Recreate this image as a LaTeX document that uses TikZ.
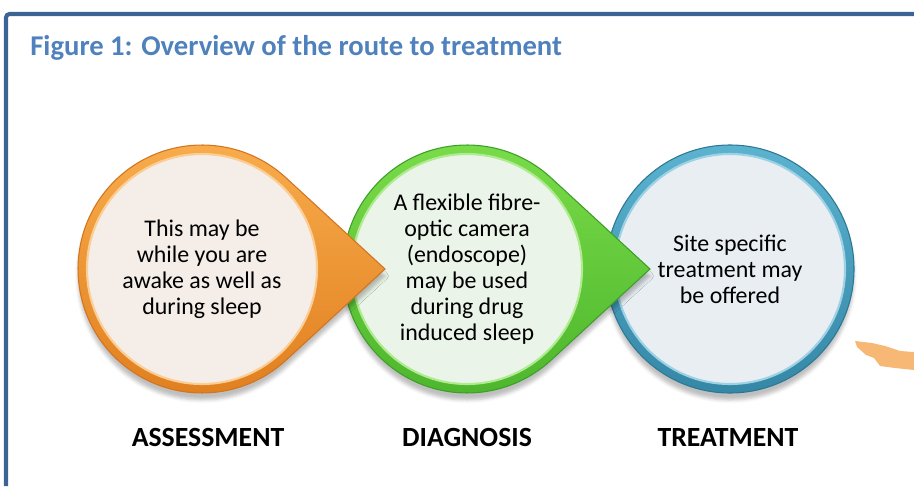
\documentclass[tikz,border=0pt]{standalone}
\usepackage{fontspec}
\setmainfont{Carlito}
\usetikzlibrary{positioning,calc,shadows.blur}

\definecolor{frameblue}{HTML}{3B6494}
\definecolor{titleblue}{HTML}{4F81BD}
\definecolor{orangeedge}{HTML}{D27420}
\definecolor{orangetop}{HTML}{F9AE4E}
\definecolor{orangebot}{HTML}{E07E1E}
\definecolor{orangefill}{HTML}{F4EDE8}
\definecolor{greenedge}{HTML}{3C9F28}
\definecolor{greentop}{HTML}{7BDD4A}
\definecolor{greenbot}{HTML}{4CB52C}
\definecolor{greenfill}{HTML}{EBF4E8}
\definecolor{blueedge}{HTML}{2C7894}
\definecolor{bluetop}{HTML}{5BB3D0}
\definecolor{bluebot}{HTML}{3587A6}
\definecolor{bluefill}{HTML}{E9EEF3}
\definecolor{handorange}{HTML}{F7B066}

\begin{document}
\begin{tikzpicture}[disc/.style={circle, minimum size=4.6cm, inner sep=0pt, align=center, font=\fontsize{13.6}{14.8}\selectfont},
  stage/.style={font=\fontsize{15.8}{18}\selectfont\bfseries},
  drop/.style={blur shadow={shadow xshift=0pt, shadow yshift=-4pt, shadow opacity=25}}]
\useasboundingbox (0,0) rectangle (18.28,9.72);
\draw[frameblue, line width=2.3pt, rounded corners=2pt] (0.12,0) -- (0.12,9.44) -- (18.28,9.44);
\node[anchor=base west, inner sep=0pt, text=titleblue, font=\fontsize{16.3}{19}\selectfont\bfseries] (title) at (0.6,8.62) {Figure 1: Overview of the route to treatment};

% treatment (drawn first, lies under the green tip)
\coordinate (t) at (14.60,4.34);
\path[drop, top color=bluetop, bottom color=bluebot, draw=blueedge, line width=0.6pt] (t) circle[radius=2.48];
\node[disc, fill=bluefill, draw=bluetop!60, line width=1.2pt] (treat) at (t) {Site specific\\treatment may\\be offered};
\node[stage, below=0.75cm of treat, xshift=-0.04cm] (treatl) {TREATMENT};

% diagnosis
\coordinate (d) at (9.34,4.34);
\coordinate (dtip) at ($(d)+(3.66,0)$);
\path[drop, top color=greentop, bottom color=greenbot, draw=greenedge, line width=0.6pt]
  ($(d)+(47.4:2.48)$) arc[start angle=47.4, end angle=312.6, radius=2.48] -- (dtip) -- cycle;
\node[disc, fill=greenfill, draw=greentop!60, line width=1.2pt] (diag) at (d) {A flexible fibre-\\optic camera\\(endoscope)\\may be used\\during drug\\induced sleep};
\node[stage, below=0.75cm of diag] (diagl) {DIAGNOSIS};

% assessment
\coordinate (a) at (4.04,4.34);
\coordinate (atip) at ($(a)+(3.66,0)$);
\path[drop, top color=orangetop, bottom color=orangebot, draw=orangeedge, line width=0.6pt]
  ($(a)+(47.4:2.48)$) arc[start angle=47.4, end angle=312.6, radius=2.48] -- (atip) -- cycle;
\node[disc, fill=orangefill, draw=orangetop!60, line width=1.2pt] (assess) at (a) {This may be\\while you are\\awake as well as\\during sleep};
\node[stage, below=0.75cm of assess, xshift=0.12cm] (assessl) {ASSESSMENT};

% pointing hand at the edge
\fill[handorange, opacity=0.9] (17.10,2.90) -- (17.44,2.86) -- (17.70,2.80) -- (18.00,2.70) -- (18.28,2.68)
  -- (18.28,2.32) -- (17.90,2.36) -- (17.60,2.40) -- (17.48,2.56) -- (17.32,2.62) -- (17.14,2.78) -- cycle;
\end{tikzpicture}
\end{document}
